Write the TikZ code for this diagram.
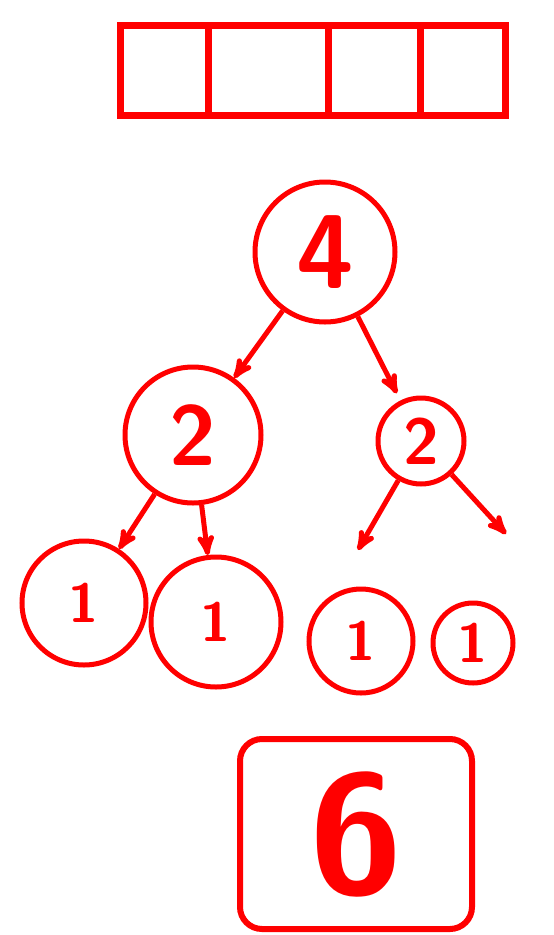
\documentclass[tikz,border=0pt]{standalone}
\usepackage{xcolor}
\usepackage{tikz}
\usetikzlibrary{arrows, positioning}
\definecolor{inkred}{RGB}{255,0,0}
\newcommand{\digitsize}[1]{\fontsize{#1}{#1}\selectfont}
\tikzset{
  cell/.style={draw=inkred, line width=7pt, minimum height=90pt,
               inner sep=0pt, outer sep=0pt, anchor=west},
  treenode/.style={circle, draw=inkred, line width=5pt, inner sep=0pt,
                   text=inkred, font=\sffamily\bfseries},
  sumbox/.style={draw=inkred, line width=6pt, rounded corners=22pt,
                 minimum width=232pt, minimum height=190pt,
                 text=inkred, font=\sffamily\bfseries\digitsize{170pt}},
  arrow/.style={-stealth', line width=5pt, draw=inkred},
}

\begin{document}
\begin{tikzpicture}[x=1pt, y=-1pt]
  \useasboundingbox (0,0) rectangle (554,935);

  % array on top
  \node[cell, minimum width=88pt] (cellA) at (120,70) {};
  \node[cell, minimum width=120pt, right=0pt of cellA] (cellB) {};
  \node[cell, minimum width=92pt, right=0pt of cellB] (cellC) {};
  \node[cell, minimum width=85pt, right=0pt of cellC] (cellD) {};

  % tree
  \node[treenode, minimum size=140pt, font=\sffamily\bfseries\digitsize{105pt}]
    (root) at (325,252) {4};
  \node[treenode, minimum size=136pt, font=\sffamily\bfseries\digitsize{85pt}]
    (leftmid) at (193,435) {2};
  \node[treenode, minimum size=86pt, font=\sffamily\bfseries\digitsize{65pt}]
    (rightmid) at (421,441) {2};

  \node[treenode, minimum size=124pt, font=\sffamily\bfseries\digitsize{55pt}]
    (leafA) at (84,603) {1};
  \node[treenode, minimum size=130pt, font=\sffamily\bfseries\digitsize{55pt}]
    (leafB) at (216,622) {1};
  \node[treenode, minimum size=104pt, font=\sffamily\bfseries\digitsize{55pt}]
    (leafC) at (361,641) {1};
  \node[treenode, minimum size=80pt, font=\sffamily\bfseries\digitsize{55pt}]
    (leafD) at (473,643) {1};

  % loose arrow ends on the right
  \coordinate (tipC) at (358,550);
  \coordinate (tipD) at (506,534);

  % result box
  \node[sumbox] (total) at (356,834) {6};

  % arrows
  \draw[arrow] (root) -- (leftmid);
  \draw[arrow, shorten >=8pt] (root) -- (rightmid);
  \draw[arrow] (leftmid) -- (leafA);
  \draw[arrow] (leftmid) -- (leafB);
  \draw[arrow] (rightmid) -- (tipC);
  \draw[arrow] (rightmid) -- (tipD);

\end{tikzpicture}
\end{document}
